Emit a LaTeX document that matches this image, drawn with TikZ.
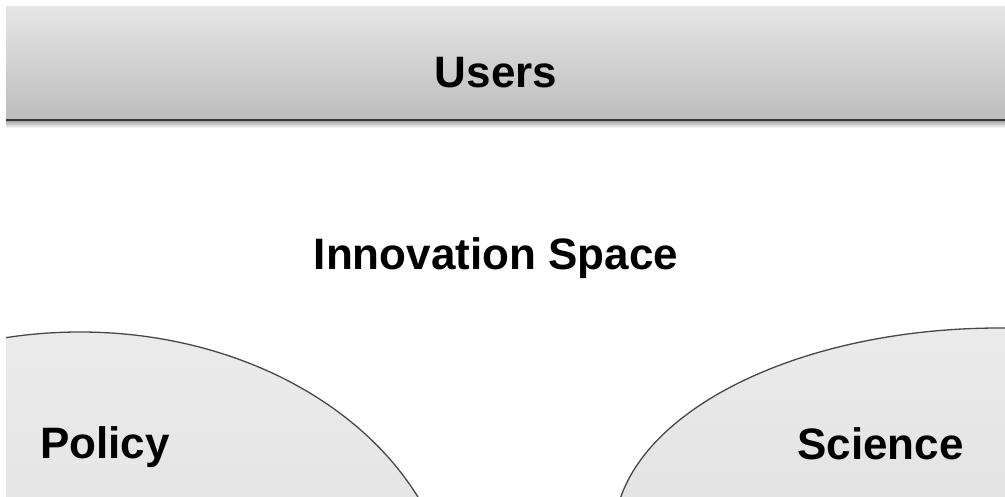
\documentclass[tikz,border=0pt]{standalone}
\usepackage{fontspec}
\setmainfont{Liberation Sans}
\begin{document}
\begin{tikzpicture}[x=1pt,y=-1pt,
  label/.style={font=\bfseries\fontsize{44}{50}\selectfont, text=black, inner sep=0pt},
  region/.style={draw=black!72, line width=1.3pt, top color=black!8, bottom color=black!15}]
\useasboundingbox (0,0) rectangle (1005,497);
\fill[white] (0,0) rectangle (1005,497);

% users banner with soft shadow under its lower edge
\shade[top color=black!35, bottom color=white] (6,121) rectangle (1005,128);
\shade[top color=black!10, bottom color=black!26] (6,7) rectangle (1005,119);
\draw[line width=2.6pt, black!78] (6,120) -- (1005,120);

% policy and science regions, cut at the page edges
\begin{scope}
  \clip (6,0) rectangle (1005,497);
  \path[region] (80,621) ellipse [x radius=374pt, y radius=289pt];
  \path[region] (1000,536) ellipse [x radius=386pt, y radius=208pt];
\end{scope}

\node[label, anchor=base] (users) at (496,88) {Users};
\node[label, anchor=base] (space) at (496,270) {Innovation Space};
\node[label, anchor=base west] (policy) at (40,458) {Policy};
\node[label, anchor=base west] (science) at (797,459) {Science};
\end{tikzpicture}
\end{document}
